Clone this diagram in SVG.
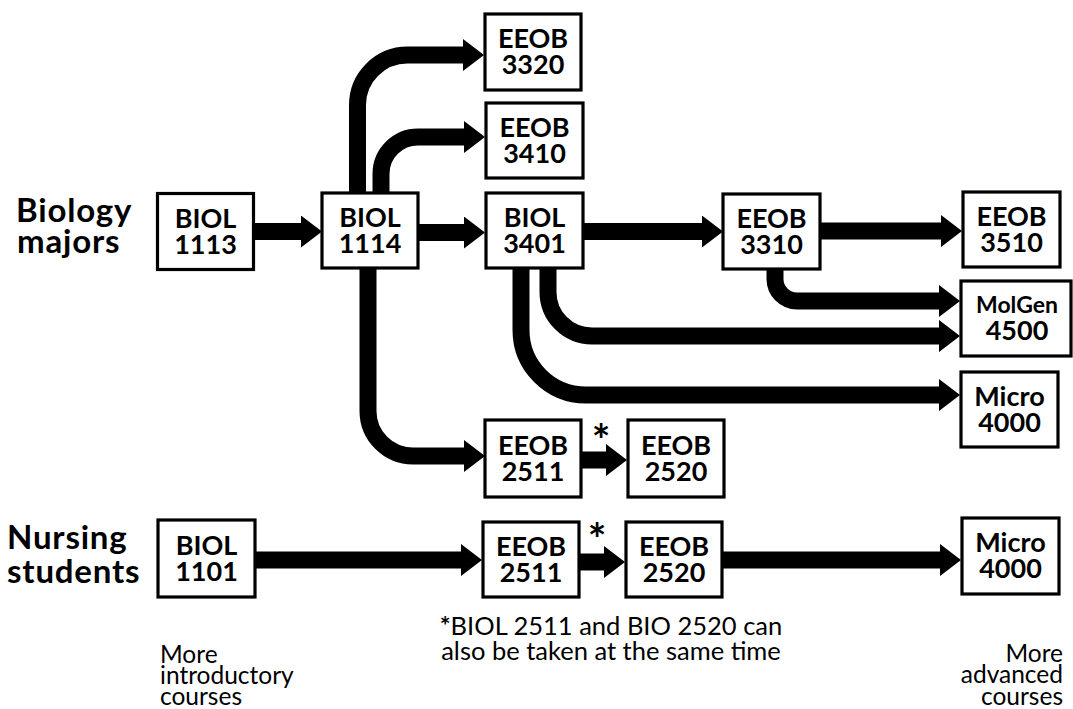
<svg xmlns="http://www.w3.org/2000/svg" width="1073" height="709" viewBox="0 0 1073 709">
<defs>
<marker id="ah" viewBox="0 0 21 32" markerWidth="21" markerHeight="32" refX="1" refY="16" markerUnits="userSpaceOnUse" orient="auto">
<path d="M0,0 L21,16 L0,32 Z" fill="#000"/>
</marker>
<style>
.box{fill:#fff;stroke:#000;stroke-width:3.2}
.nt{font-family:Lato,"Liberation Sans",sans-serif;font-weight:bold;font-size:27px;fill:#000;text-anchor:middle}
.lab{font-family:Lato,"Liberation Sans",sans-serif;font-weight:bold;font-size:33px;letter-spacing:0.8px;fill:#000}
.note{font-family:Lato,"Liberation Sans",sans-serif;font-size:25.5px;fill:#000}
.side{font-family:Lato,"Liberation Sans",sans-serif;font-size:24.5px;fill:#000}
.ast{font-family:Lato,"Liberation Sans",sans-serif;font-weight:bold;font-size:44px;fill:#000;text-anchor:middle}
.c{fill:none;stroke:#000;stroke-width:17;marker-end:url(#ah)}
</style>
</defs>
<rect width="1073" height="709" fill="#fff"/>
<g id="connectors">
<path class="c" d="M254,231.5 H302"/>
<path class="c" d="M419,232.5 H465"/>
<path class="c" d="M357.5,193 V105 A50,50 0 0 1 407.5,55 H464"/>
<path class="c" d="M381,193 V174 A37,37 0 0 1 418,137 H465"/>
<path class="c" d="M368,268 V411 A45,45 0 0 0 413,456 H465"/>
<path class="c" d="M584,231.5 H703"/>
<path class="c" d="M821,231 H942"/>
<path class="c" d="M775,269 V279 A22,22 0 0 0 797,301 H940"/>
<path class="c" d="M548,268 V292 A44,44 0 0 0 592,336 H940"/>
<path class="c" d="M521,268 V330 A65,65 0 0 0 586,395 H940"/>
<path class="c" d="M582,460 H607"/>
<path class="c" d="M256,560 H462"/>
<path class="c" d="M580,562 H605"/>
<path class="c" d="M723,560 H941"/>
</g>
<g id="label-biology"><text class="lab" x="16" y="222">Biology</text><text class="lab" x="17" y="253">majors</text></g>
<g id="label-nursing"><text class="lab" x="7" y="549">Nursing</text><text class="lab" x="7" y="583">students</text></g>
<g id="biol1113"><rect class="box" x="157.5" y="193.5" width="96" height="76"/><text class="nt" x="205.5" y="227.5">BIOL</text><text class="nt" x="205.5" y="254">1113</text></g>
<g id="biol1114"><rect class="box" x="322" y="193" width="96" height="75"/><text class="nt" x="370" y="226.5">BIOL</text><text class="nt" x="370" y="253">1114</text></g>
<g id="biol3401"><rect class="box" x="486" y="193" width="97" height="75"/><text class="nt" x="534.5" y="226.5">BIOL</text><text class="nt" x="534.5" y="253">3401</text></g>
<g id="eeob3320"><rect class="box" x="485" y="14" width="96" height="76"/><text class="nt" x="533" y="47.5">EEOB</text><text class="nt" x="533" y="74">3320</text></g>
<g id="eeob3410"><rect class="box" x="486" y="103" width="97" height="75"/><text class="nt" x="534.5" y="136.5">EEOB</text><text class="nt" x="534.5" y="163">3410</text></g>
<g id="eeob3310"><rect class="box" x="723" y="194" width="97" height="75"/><text class="nt" x="771.5" y="227.5">EEOB</text><text class="nt" x="771.5" y="254">3310</text></g>
<g id="eeob3510"><rect class="box" x="963" y="192" width="97" height="75"/><text class="nt" x="1011.5" y="225.5">EEOB</text><text class="nt" x="1011.5" y="252">3510</text></g>
<g id="molgen4500"><rect class="box" x="961" y="281" width="110" height="75"/><text class="nt" x="1017" y="313" style="font-size:23px">MolGen</text><text class="nt" x="1017" y="339.5">4500</text></g>
<g id="micro4000a"><rect class="box" x="961" y="372" width="97" height="75"/><text class="nt" x="1009.5" y="405.5">Micro</text><text class="nt" x="1009.5" y="432">4000</text></g>
<g id="eeob2511a"><rect class="box" x="485" y="420" width="96" height="77"/><text class="nt" x="533" y="454.5">EEOB</text><text class="nt" x="533" y="481">2511</text></g>
<g id="eeob2520a"><rect class="box" x="628" y="420" width="96" height="77"/><text class="nt" x="676" y="454.5">EEOB</text><text class="nt" x="676" y="481">2520</text></g>
<g id="biol1101"><rect class="box" x="158" y="520" width="97" height="77"/><text class="nt" x="206.5" y="554.5">BIOL</text><text class="nt" x="206.5" y="581">1101</text></g>
<g id="eeob2511b"><rect class="box" x="483" y="522" width="96" height="75"/><text class="nt" x="531" y="555.5">EEOB</text><text class="nt" x="531" y="582">2511</text></g>
<g id="eeob2520b"><rect class="box" x="626" y="522" width="96" height="75"/><text class="nt" x="674" y="555.5">EEOB</text><text class="nt" x="674" y="582">2520</text></g>
<g id="micro4000b"><rect class="box" x="962" y="518" width="97" height="76"/><text class="nt" x="1010.5" y="551.5">Micro</text><text class="nt" x="1010.5" y="578">4000</text></g>
<text class="ast" x="601" y="456">*</text>
<text class="ast" x="597" y="555">*</text>
<g id="footnote"><text class="note" x="611" y="635" text-anchor="middle"><tspan font-weight="bold">*</tspan>BIOL 2511 and BIO 2520 can</text><text class="note" x="611" y="660" text-anchor="middle">also be taken at the same time</text></g>
<g id="label-intro"><text class="side" x="160" y="663">More</text><text class="side" x="160" y="684">introductory</text><text class="side" x="160" y="705">courses</text></g>
<g id="label-adv"><text class="side" x="1063" y="662" text-anchor="end">More</text><text class="side" x="1063" y="683" text-anchor="end">advanced</text><text class="side" x="1063" y="705" text-anchor="end">courses</text></g>
</svg>
